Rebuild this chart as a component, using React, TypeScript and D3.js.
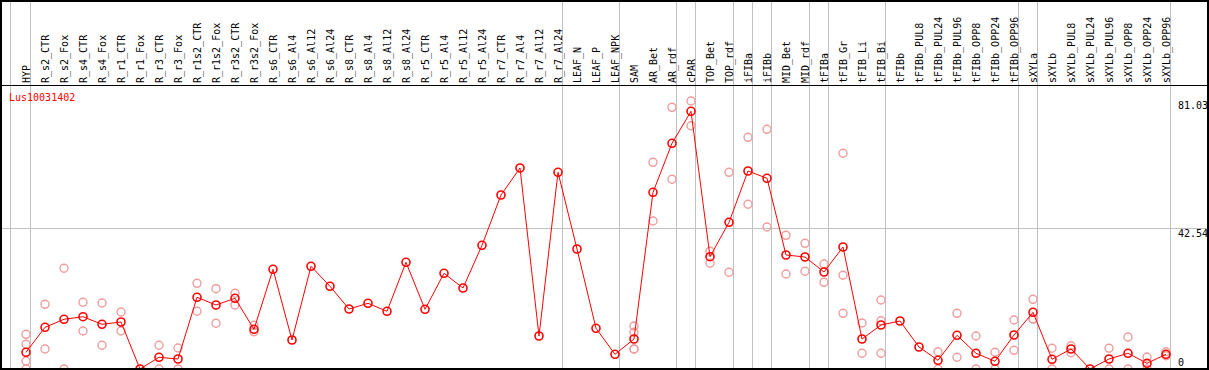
import React, { useEffect, useRef } from 'react'
import * as d3 from 'd3'

const geneName = 'Lus10031402'

const categories = [
  'HYP', 'R_s2_CTR', 'R_s2_Fox', 'R_s4_CTR', 'R_s4_Fox', 'R_r1_CTR', 'R_r1_Fox', 'R_r3_CTR', 'R_r3_Fox',
  'R_r1s2_CTR', 'R_r1s2_Fox', 'R_r3s2_CTR', 'R_r3s2_Fox', 'R_s6_CTR', 'R_s6_Al4', 'R_s6_Al12', 'R_s6_Al24',
  'R_s8_CTR', 'R_s8_Al4', 'R_s8_Al12', 'R_s8_Al24', 'R_r5_CTR', 'R_r5_Al4', 'R_r5_Al12', 'R_r5_Al24',
  'R_r7_CTR', 'R_r7_Al4', 'R_r7_Al12', 'R_r7_Al24', 'LEAF_N', 'LEAF_P', 'LEAF_NPK', 'SAM', 'AR_Bet', 'AR_rdf',
  'cPAR', 'TOP_Bet', 'TOP_rdf', 'iFIBa', 'iFIBb', 'MID_Bet', 'MID_rdf', 'tFIBa', 'tFIB_Gr', 'tFIB_Li', 'tFIB_Bi',
  'tFIBb', 'tFIBb_PUL8', 'tFIBb_PUL24', 'tFIBb_PUL96', 'tFIBb_OPP8', 'tFIBb_OPP24', 'tFIBb_OPP96', 'sXYLa',
  'sXYLb', 'sXYLb_PUL8', 'sXYLb_PUL24', 'sXYLb_PUL96', 'sXYLb_OPP8', 'sXYLb_OPP24', 'sXYLb_OPP96',
]

// mean expression per sample
const means = [
  5.05, 12.61, 15.03, 15.81, 13.51, 14.21, 0, 3.54, 3.02,
  21.68, 19.35, 21.38, 12.0, 30.14, 8.77, 31.05, 25.0,
  18.14, 19.86, 17.45, 32.26, 18.05, 28.93, 24.49, 37.4,
  52.61, 60.77, 9.98, 59.47, 36.28, 12.31, 4.44, 9.07, 53.42, 68.24,
  77.91, 33.95, 44.35, 59.86, 57.66, 34.47, 33.86, 29.33, 36.89, 9.07, 13.3,
  14.51, 6.65, 2.63, 10.19, 4.75, 2.33, 10.28, 17.14,
  2.93, 6.05, 0, 3.02, 4.75, 1.72, 4.44,
]

// replicate values per sample
const replicates = [
  [10.49, 7.47, 2.42, 0], [19.56, 6.05], [30.45, 0], [20.17, 11.49], [19.95, 7.17], [17.23, 11.49], [], [7.17, 0], [6.35, 0],
  [25.91, 17.45], [24.28, 13.82], [22.89, 19.35], [13.21, 11.28], [], [], [], [],
  [], [], [], [], [], [], [], [],
  [], [], [], [], [], [], [], [13.0, 11.1, 6.05, 6.05], [62.49, 44.75], [79.12, 57.36],
  [81.03, 73.56], [35.59, 31.96], [59.47, 29.24], [70.05, 49.8], [72.47, 42.93], [40.42, 28.72], [38.0, 29.54], [31.75, 26.21],
  [65.22, 28.33, 16.84], [13.91, 4.75], [20.86, 14.6, 4.75],
  [], [], [5.23, 0], [16.84, 3.54], [9.98, 0], [5.05, 0], [14.81, 5.65], [21.07, 15.12, 15.12],
  [6.26, 0], [7.04, 4.93], [], [6.26, 0], [9.67, 0], [3.63, 0], [5.23, 4.02],
]

const yTicks = [0, 42.54, 81.03]
const yMax = 85.08

// gridlines drawn right after these samples
const groupEnds = ['HYP', 'R_r7_Al24', 'LEAF_NPK', 'AR_rdf', 'cPAR', 'TOP_rdf', 'iFIBa', 'iFIBb', 'MID_rdf', 'tFIBa', 'tFIB_Bi', 'tFIBb_OPP96', 'sXYLa', 'sXYLb_OPP96']

const W = 1209
const H = 370
const font = '"DejaVu Sans Mono", monospace'

function ExpressionChart() {
  const ref = useRef<SVGSVGElement>(null)

  useEffect(() => {
    const svg = d3.select(ref.current)
    svg.selectAll('*').remove()

    const x = d3.scalePoint<string>().domain(categories).range([26, 1166])
    const y = d3.scaleLinear().domain([0, yMax]).range([369, 87.6])

    svg.append('rect').attr('width', W).attr('height', H).attr('fill', '#fff')

    // vertical group lines
    const gx = [10.5, ...groupEnds.map(c => x(c)! + 4.5)]
    svg.selectAll('.vgrid')
      .data(gx)
      .enter()
      .append('line')
      .attr('x1', d => d).attr('x2', d => d)
      .attr('y1', 0).attr('y2', 369)
      .attr('stroke', '#c0c0c0')
      .attr('stroke-width', 1)

    // mid gridline
    const ym = Math.floor(y(42.54)) + 0.5
    svg.append('line')
      .attr('x1', 1).attr('x2', 1208)
      .attr('y1', ym).attr('y2', ym)
      .attr('stroke', '#c0c0c0')

    // header separator
    svg.append('line')
      .attr('x1', 0).attr('x2', 1208)
      .attr('y1', 85.5).attr('y2', 85.5)
      .attr('stroke', '#000')

    // sample labels
    svg.selectAll('.lab')
      .data(categories)
      .enter()
      .append('text')
      .attr('transform', d => `translate(${x(d)! + 3.5},83) rotate(-90)`)
      .attr('font-family', font)
      .attr('font-size', 10)
      .attr('fill', '#000')
      .text(d => d)

    svg.append('text')
      .attr('x', 9).attr('y', 101)
      .attr('font-family', font)
      .attr('font-size', 10)
      .attr('fill', '#ff0000')
      .text(geneName)

    svg.selectAll('.ytick')
      .data(yTicks)
      .enter()
      .append('text')
      .attr('x', 1178)
      .attr('y', d => Math.min(y(d) + 8.5, 366))
      .attr('font-family', font)
      .attr('font-size', 10)
      .attr('fill', '#000')
      .text(d => String(d))

    // replicate points
    const reps = categories.flatMap((c, i) => replicates[i].map(v => ({ c, v })))
    svg.selectAll('.rep')
      .data(reps)
      .enter()
      .append('circle')
      .attr('cx', d => x(d.c)!)
      .attr('cy', d => y(d.v))
      .attr('r', 4)
      .attr('fill', 'none')
      .attr('stroke', '#f09c9c')
      .attr('stroke-width', 1.4)

    const line = d3.line<number>()
      .x((_, i) => x(categories[i])!)
      .y(d => y(d))

    svg.append('path')
      .datum(means)
      .attr('d', line)
      .attr('fill', 'none')
      .attr('stroke', '#ff0000')
      .attr('stroke-width', 1)

    svg.selectAll('.mean')
      .data(means)
      .enter()
      .append('circle')
      .attr('cx', (_, i) => x(categories[i])!)
      .attr('cy', d => y(d))
      .attr('r', 4)
      .attr('fill', 'none')
      .attr('stroke', '#ff0000')
      .attr('stroke-width', 1.6)

    // frame
    svg.append('rect')
      .attr('x', 1).attr('y', 1)
      .attr('width', 1207).attr('height', 368)
      .attr('fill', 'none')
      .attr('stroke', '#000')
      .attr('stroke-width', 2)
  }, [])

  return <svg ref={ref} width={W} height={H} style={{ position: 'absolute', left: 0, top: 0, display: 'block' }} />
}

export default function App() {
  return <ExpressionChart />
}
